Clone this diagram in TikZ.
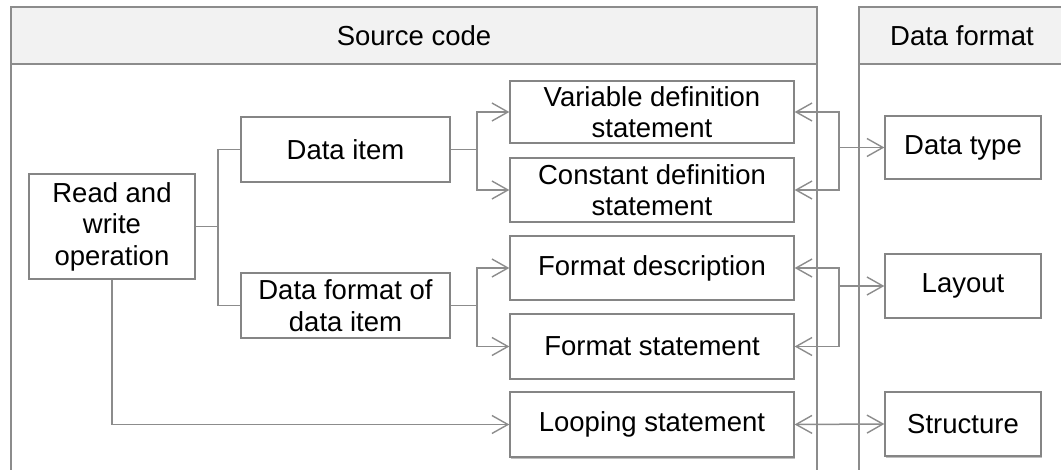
\documentclass[tikz,border=0pt]{standalone}
\usepackage{fontspec}
\setmainfont{Liberation Sans}
\usetikzlibrary{arrows.meta,shadows}
\definecolor{linegray}{HTML}{8C8C8C}
\definecolor{boxgray}{HTML}{858585}
\definecolor{headfill}{HTML}{F2F2F2}
\begin{document}
\begin{tikzpicture}[x=1pt,y=-1pt,
  box/.style={draw=boxgray, line width=1.3pt, fill=white, rectangle, inner sep=0pt,
    align=center, font=\fontsize{27.5}{31.5}\selectfont, text=black,
    drop shadow={shadow xshift=1.2pt, shadow yshift=-1.5pt, opacity=0.25, fill=black}},
  conn/.style={draw=linegray, line width=1.5pt},
  tip/.tip={Straight Barb[length=16pt,width=18pt,line width=1.4pt]},
  arr/.style={conn, -tip},
  panel/.style={draw=linegray, line width=1.5pt},
  headtxt/.style={font=\fontsize{27.5}{31.5}\selectfont, text=black}
]
\useasboundingbox (0,0) rectangle (1061,470);
% panels
\fill[headfill] (11,7) rectangle (817,64);
\fill[headfill] (859,7) rectangle (1070,64);
\draw[panel] (11,480) -- (11,7) -- (817,7) -- (817,480);
\draw[panel] (11,64) -- (817,64);
\draw[panel] (859,480) -- (859,7) -- (1070,7);
\draw[panel] (859,64) -- (1070,64);
\node[headtxt] (h1) at (414,35.5) {Source code};
\node[headtxt] (h2) at (962,35.5) {Data format};
% nodes
\node[box, minimum width=166pt, minimum height=105pt] (rw) at (112,226.5) {Read and\\write\\operation};
\node[box, minimum width=209pt, minimum height=65pt] (di) at (345.5,149.5) {Data item};
\node[box, minimum width=209pt, minimum height=65pt] (dfi) at (345.5,305.5) {Data format of\\data item};
\node[box, minimum width=284pt, minimum height=62pt] (vd) at (652,112) {Variable definition\\statement};
\node[box, minimum width=284pt, minimum height=64pt] (cd) at (652,190) {Constant definition\\statement};
\node[box, minimum width=284pt, minimum height=64pt] (fd) at (652,268) {Format description};
\node[box, minimum width=284pt, minimum height=65pt] (fs) at (652,346.5) {Format statement};
\node[box, minimum width=284pt, minimum height=65pt] (ls) at (652,424.5) {Looping statement};
\node[box, minimum width=156pt, minimum height=63pt] (dt) at (963,147.5) {Data type};
\node[box, minimum width=156pt, minimum height=64pt] (lay) at (963,286) {Layout};
\node[box, minimum width=156pt, minimum height=64pt] (st) at (963,424) {Structure};
% left connectors
\coordinate (j0) at (218,226.5);
\draw[conn] (rw.east) -- (j0);
\draw[conn] (j0) |- (di.west);
\draw[conn] (j0) |- (dfi.west);
\coordinate (j1) at (477,149.5);
\draw[conn] (di.east) -- (j1);
\draw[arr] (j1) |- (vd.west);
\draw[arr] (j1) |- (cd.west);
\coordinate (j2) at (477,305.5);
\draw[conn] (dfi.east) -- (j2);
\draw[arr] (j2) |- (fd.west);
\draw[arr] (j2) |- (fs.west);
\draw[arr] (rw.south) |- (ls.west);
% right connectors
\coordinate (r1) at (839,147.5);
\draw[arr] (r1) -- (dt.west);
\draw[arr] (r1) |- (vd.east);
\draw[arr] (r1) |- (cd.east);
\coordinate (r2) at (839,286);
\draw[arr] (r2) -- (lay.west);
\draw[arr] (r2) |- (fd.east);
\draw[arr] (r2) |- (fs.east);
\draw[conn, tip-tip] (ls.east) -- (st.west);
\end{tikzpicture}
\end{document}
